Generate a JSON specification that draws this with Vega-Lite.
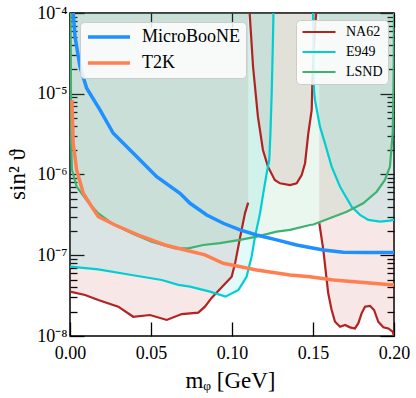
{
  "$schema": "https://vega.github.io/schema/vega-lite/v6.json",
  "width": 324,
  "height": 323,
  "autosize": {"type": "none"},
  "padding": {"left": 70, "top": 13, "right": 22, "bottom": 62},
  "background": "white",
  "config": {
    "view": {"stroke": "black", "strokeWidth": 1.5},
    "font": "Liberation Serif",
    "axis": {"grid": false, "domain": false, "labelColor": "black", "tickColor": "black", "tickWidth": 1.3, "labelFont": "Liberation Serif", "titleFont": "Liberation Serif", "titleFontWeight": "normal", "titleColor": "black", "labelFlush": false},
    "legend": {"labelFont": "Liberation Serif", "labelColor": "black"}
  },
  "data": {"values": [
    {"e": "NA62", "s": "L", "x": 0.0, "y": 3.54e-8},
    {"e": "NA62", "s": "L", "x": 0.0093, "y": 3.22e-8},
    {"e": "NA62", "s": "L", "x": 0.0175, "y": 2.79e-8},
    {"e": "NA62", "s": "L", "x": 0.0298, "y": 2.31e-8},
    {"e": "NA62", "s": "L", "x": 0.039, "y": 1.73e-8},
    {"e": "NA62", "s": "L", "x": 0.0494, "y": 1.82e-8},
    {"e": "NA62", "s": "L", "x": 0.0597, "y": 1.58e-8},
    {"e": "NA62", "s": "L", "x": 0.069, "y": 1.87e-8},
    {"e": "NA62", "s": "L", "x": 0.0792, "y": 1.95e-8},
    {"e": "NA62", "s": "L", "x": 0.0833, "y": 2.31e-8},
    {"e": "NA62", "s": "L", "x": 0.0874, "y": 2.96e-8},
    {"e": "NA62", "s": "L", "x": 0.0998, "y": 5.42e-8},
    {"e": "NA62", "s": "L", "x": 0.1019, "y": 7.94e-8},
    {"e": "NA62", "s": "L", "x": 0.1049, "y": 1.62e-7},
    {"e": "NA62", "s": "L", "x": 0.108, "y": 3.3e-7},
    {"e": "NA62", "s": "L", "x": 0.110, "y": 4.48e-7},
    {"e": "NA62", "s": "U", "x": 0.1109, "y": 1.0e-4},
    {"e": "NA62", "s": "U", "x": 0.113, "y": 2.16e-5},
    {"e": "NA62", "s": "U", "x": 0.116, "y": 5.2e-6},
    {"e": "NA62", "s": "U", "x": 0.1191, "y": 2.01e-6},
    {"e": "NA62", "s": "U", "x": 0.1222, "y": 1.25e-6},
    {"e": "NA62", "s": "U", "x": 0.1264, "y": 8.55e-7},
    {"e": "NA62", "s": "U", "x": 0.1296, "y": 7.78e-7},
    {"e": "NA62", "s": "U", "x": 0.1358, "y": 7.41e-7},
    {"e": "NA62", "s": "U", "x": 0.1399, "y": 7.78e-7},
    {"e": "NA62", "s": "U", "x": 0.143, "y": 9.86e-7},
    {"e": "NA62", "s": "U", "x": 0.1451, "y": 1.38e-6},
    {"e": "NA62", "s": "U", "x": 0.1471, "y": 3.24e-6},
    {"e": "NA62", "s": "U", "x": 0.1492, "y": 6.3e-6},
    {"e": "NA62", "s": "U", "x": 0.1496, "y": 1.35e-5},
    {"e": "NA62", "s": "U", "x": 0.151, "y": 5.61e-5},
    {"e": "NA62", "s": "U", "x": 0.152, "y": 1.0e-4},
    {"e": "NA62", "s": "R", "x": 0.1539, "y": 2.49e-7},
    {"e": "NA62", "s": "R", "x": 0.1564, "y": 1.16e-7},
    {"e": "NA62", "s": "R", "x": 0.158, "y": 5.97e-8},
    {"e": "NA62", "s": "R", "x": 0.1594, "y": 3.38e-8},
    {"e": "NA62", "s": "R", "x": 0.1615, "y": 2.1e-8},
    {"e": "NA62", "s": "R", "x": 0.1636, "y": 1.5e-8},
    {"e": "NA62", "s": "R", "x": 0.1667, "y": 1.3e-8},
    {"e": "NA62", "s": "R", "x": 0.1698, "y": 1.37e-8},
    {"e": "NA62", "s": "R", "x": 0.1728, "y": 1.28e-8},
    {"e": "NA62", "s": "R", "x": 0.1759, "y": 1.24e-8},
    {"e": "NA62", "s": "R", "x": 0.178, "y": 1.44e-8},
    {"e": "NA62", "s": "R", "x": 0.18, "y": 1.91e-8},
    {"e": "NA62", "s": "R", "x": 0.1821, "y": 2.31e-8},
    {"e": "NA62", "s": "R", "x": 0.1852, "y": 2.36e-8},
    {"e": "NA62", "s": "R", "x": 0.1877, "y": 2.1e-8},
    {"e": "NA62", "s": "R", "x": 0.1903, "y": 1.5e-8},
    {"e": "NA62", "s": "R", "x": 0.1934, "y": 1.28e-8},
    {"e": "NA62", "s": "R", "x": 0.1965, "y": 1.24e-8},
    {"e": "NA62", "s": "R", "x": 0.1992, "y": 1.13e-8},
    {"e": "NA62", "s": "R", "x": 0.2, "y": 1.0e-8},
    {"e": "E949", "s": "L", "x": 0.0, "y": 7.23e-8},
    {"e": "E949", "s": "L", "x": 0.0175, "y": 6.7e-8},
    {"e": "E949", "s": "L", "x": 0.038, "y": 5.69e-8},
    {"e": "E949", "s": "L", "x": 0.0566, "y": 4.94e-8},
    {"e": "E949", "s": "L", "x": 0.0669, "y": 4.29e-8},
    {"e": "E949", "s": "L", "x": 0.0741, "y": 4.08e-8},
    {"e": "E949", "s": "L", "x": 0.0864, "y": 3.54e-8},
    {"e": "E949", "s": "L", "x": 0.096, "y": 3.07e-8},
    {"e": "E949", "s": "L", "x": 0.104, "y": 3.72e-8},
    {"e": "E949", "s": "L", "x": 0.109, "y": 5.42e-8},
    {"e": "E949", "s": "L", "x": 0.1121, "y": 9.6e-8},
    {"e": "E949", "s": "L", "x": 0.1142, "y": 1.7e-7},
    {"e": "E949", "s": "L", "x": 0.1173, "y": 3.3e-7},
    {"e": "E949", "s": "L", "x": 0.1193, "y": 5.85e-7},
    {"e": "E949", "s": "L", "x": 0.1214, "y": 1.035e-6},
    {"e": "E949", "s": "L", "x": 0.123, "y": 1.51e-6},
    {"e": "E949", "s": "L", "x": 0.1237, "y": 3.16e-6},
    {"e": "E949", "s": "L", "x": 0.1245, "y": 1.0e-5},
    {"e": "E949", "s": "L", "x": 0.1252, "y": 3.98e-5},
    {"e": "E949", "s": "L", "x": 0.1256, "y": 1.0e-4},
    {"e": "E949", "s": "R", "x": 0.15, "y": 1.0e-4},
    {"e": "E949", "s": "R", "x": 0.1506, "y": 1.11e-5},
    {"e": "E949", "s": "R", "x": 0.1512, "y": 8.38e-6},
    {"e": "E949", "s": "R", "x": 0.1543, "y": 3.91e-6},
    {"e": "E949", "s": "R", "x": 0.1574, "y": 2.43e-6},
    {"e": "E949", "s": "R", "x": 0.1615, "y": 1.25e-6},
    {"e": "E949", "s": "R", "x": 0.1667, "y": 7.06e-7},
    {"e": "E949", "s": "R", "x": 0.1739, "y": 3.99e-7},
    {"e": "E949", "s": "R", "x": 0.179, "y": 3.16e-7},
    {"e": "E949", "s": "R", "x": 0.1842, "y": 2.74e-7},
    {"e": "E949", "s": "R", "x": 0.1914, "y": 2.61e-7},
    {"e": "E949", "s": "R", "x": 0.1975, "y": 2.68e-7},
    {"e": "E949", "s": "R", "x": 0.2, "y": 2.74e-7},
    {"e": "LSND", "s": "M", "x": 0.0003, "y": 1.0e-4},
    {"e": "LSND", "s": "M", "x": 0.0005, "y": 3.0e-5},
    {"e": "LSND", "s": "M", "x": 0.0006, "y": 1.0e-5},
    {"e": "LSND", "s": "M", "x": 0.0007, "y": 2.5e-6},
    {"e": "LSND", "s": "M", "x": 0.0012, "y": 1.14e-6},
    {"e": "LSND", "s": "M", "x": 0.0041, "y": 7.06e-7},
    {"e": "LSND", "s": "M", "x": 0.011, "y": 4.6e-7},
    {"e": "LSND", "s": "M", "x": 0.0175, "y": 3.3e-7},
    {"e": "LSND", "s": "M", "x": 0.0257, "y": 2.49e-7},
    {"e": "LSND", "s": "M", "x": 0.0381, "y": 1.87e-7},
    {"e": "LSND", "s": "M", "x": 0.0504, "y": 1.47e-7},
    {"e": "LSND", "s": "M", "x": 0.0648, "y": 1.22e-7},
    {"e": "LSND", "s": "M", "x": 0.073, "y": 1.22e-7},
    {"e": "LSND", "s": "M", "x": 0.0823, "y": 1.34e-7},
    {"e": "LSND", "s": "M", "x": 0.0926, "y": 1.41e-7},
    {"e": "LSND", "s": "M", "x": 0.1049, "y": 1.55e-7},
    {"e": "LSND", "s": "M", "x": 0.1152, "y": 1.7e-7},
    {"e": "LSND", "s": "M", "x": 0.1276, "y": 1.96e-7},
    {"e": "LSND", "s": "M", "x": 0.1358, "y": 2.06e-7},
    {"e": "LSND", "s": "M", "x": 0.1481, "y": 2.37e-7},
    {"e": "LSND", "s": "M", "x": 0.1502, "y": 2.4e-7},
    {"e": "LSND", "s": "M", "x": 0.1708, "y": 3.46e-7},
    {"e": "LSND", "s": "M", "x": 0.181, "y": 4.4e-7},
    {"e": "LSND", "s": "M", "x": 0.1893, "y": 6.12e-7},
    {"e": "LSND", "s": "M", "x": 0.1944, "y": 8.55e-7},
    {"e": "LSND", "s": "M", "x": 0.1975, "y": 1.25e-6},
    {"e": "LSND", "s": "M", "x": 0.1992, "y": 3.27e-6},
    {"e": "LSND", "s": "M", "x": 0.1996, "y": 8.38e-6},
    {"e": "LSND", "s": "M", "x": 0.1999, "y": 3.0e-5},
    {"e": "LSND", "s": "M", "x": 0.2, "y": 1.0e-4},
    {"e": "MicroBooNE", "s": "M", "x": 0.002, "y": 1.0e-4},
    {"e": "MicroBooNE", "s": "M", "x": 0.0031, "y": 5.09e-5},
    {"e": "MicroBooNE", "s": "M", "x": 0.0062, "y": 2.16e-5},
    {"e": "MicroBooNE", "s": "M", "x": 0.0103, "y": 1.17e-5},
    {"e": "MicroBooNE", "s": "M", "x": 0.0185, "y": 6.3e-6},
    {"e": "MicroBooNE", "s": "M", "x": 0.0267, "y": 3.24e-6},
    {"e": "MicroBooNE", "s": "M", "x": 0.0391, "y": 1.83e-6},
    {"e": "MicroBooNE", "s": "M", "x": 0.0535, "y": 9.4e-7},
    {"e": "MicroBooNE", "s": "M", "x": 0.0679, "y": 5.85e-7},
    {"e": "MicroBooNE", "s": "M", "x": 0.0741, "y": 4.4e-7},
    {"e": "MicroBooNE", "s": "M", "x": 0.0844, "y": 3.15e-7},
    {"e": "MicroBooNE", "s": "M", "x": 0.0946, "y": 2.49e-7},
    {"e": "MicroBooNE", "s": "M", "x": 0.1049, "y": 2.06e-7},
    {"e": "MicroBooNE", "s": "M", "x": 0.1152, "y": 1.78e-7},
    {"e": "MicroBooNE", "s": "M", "x": 0.1276, "y": 1.55e-7},
    {"e": "MicroBooNE", "s": "M", "x": 0.1399, "y": 1.34e-7},
    {"e": "MicroBooNE", "s": "M", "x": 0.1481, "y": 1.25e-7},
    {"e": "MicroBooNE", "s": "M", "x": 0.1564, "y": 1.16e-7},
    {"e": "MicroBooNE", "s": "M", "x": 0.1687, "y": 1.09e-7},
    {"e": "MicroBooNE", "s": "M", "x": 0.1831, "y": 1.08e-7},
    {"e": "MicroBooNE", "s": "M", "x": 0.2, "y": 1.08e-7},
    {"e": "T2K", "s": "M", "x": 0.0012, "y": 8.38e-6},
    {"e": "T2K", "s": "M", "x": 0.002, "y": 2.43e-6},
    {"e": "T2K", "s": "M", "x": 0.0041, "y": 1.14e-6},
    {"e": "T2K", "s": "M", "x": 0.0082, "y": 5.85e-7},
    {"e": "T2K", "s": "M", "x": 0.0134, "y": 3.99e-7},
    {"e": "T2K", "s": "M", "x": 0.0175, "y": 3.0e-7},
    {"e": "T2K", "s": "M", "x": 0.0278, "y": 2.37e-7},
    {"e": "T2K", "s": "M", "x": 0.0422, "y": 1.78e-7},
    {"e": "T2K", "s": "M", "x": 0.0586, "y": 1.34e-7},
    {"e": "T2K", "s": "M", "x": 0.071, "y": 1.16e-7},
    {"e": "T2K", "s": "M", "x": 0.0833, "y": 1.01e-7},
    {"e": "T2K", "s": "M", "x": 0.0946, "y": 7.94e-8},
    {"e": "T2K", "s": "M", "x": 0.1152, "y": 6.56e-8},
    {"e": "T2K", "s": "M", "x": 0.1358, "y": 5.69e-8},
    {"e": "T2K", "s": "M", "x": 0.1481, "y": 5.42e-8},
    {"e": "T2K", "s": "M", "x": 0.1626, "y": 4.94e-8},
    {"e": "T2K", "s": "M", "x": 0.1831, "y": 4.58e-8},
    {"e": "T2K", "s": "M", "x": 0.2, "y": 4.29e-8}
  ]},
  "layer": [
    {
      "layer": [
        {
          "transform": [{"filter": "datum.e == 'NA62'"}],
          "mark": {"type": "area", "color": "#b22222", "opacity": 0.11, "clip": true},
          "encoding": {
            "x": {"field": "x", "type": "quantitative"},
            "y": {"field": "y", "type": "quantitative"},
            "y2": {"datum": 0.0001},
            "detail": {"field": "s"}
          }
        },
        {
          "transform": [{"filter": "datum.e == 'E949'"}],
          "mark": {"type": "area", "color": "#00ced1", "opacity": 0.11, "clip": true},
          "encoding": {
            "x": {"field": "x", "type": "quantitative"},
            "y": {"field": "y", "type": "quantitative"},
            "y2": {"datum": 0.0001},
            "detail": {"field": "s"}
          }
        },
        {
          "transform": [{"filter": "datum.e == 'LSND'"}],
          "mark": {"type": "area", "color": "#3cb371", "opacity": 0.11, "clip": true},
          "encoding": {
            "x": {"field": "x", "type": "quantitative"},
            "y": {"field": "y", "type": "quantitative"},
            "y2": {"datum": 0.0001},
            "detail": {"field": "s"}
          }
        },
        {
          "transform": [{"filter": "datum.e == 'NA62' || datum.e == 'E949' || datum.e == 'LSND'"}],
          "mark": {"type": "line", "strokeWidth": 2.2, "clip": true},
          "encoding": {
            "x": {"field": "x", "type": "quantitative"},
            "y": {"field": "y", "type": "quantitative"},
            "detail": {"field": "s"},
            "color": {
              "field": "e", "type": "nominal",
              "scale": {"domain": ["NA62", "E949", "LSND"], "range": ["#b22222", "#00ced1", "#3cb371"]},
              "legend": {
                "title": null, "orient": "none", "legendX": 226, "legendY": 7,
                "symbolType": "M-1,0H5", "symbolSize": 121, "symbolStrokeWidth": 2.2,
                "labelFont": "Liberation Serif", "labelFontSize": 14, "labelOffset": 31, "padding": 5, "rowPadding": 6,
                "fillColor": "rgba(255,255,255,0.85)", "strokeColor": "#cccccc", "cornerRadius": 4
              }
            }
          }
        },
        {
          "transform": [{"filter": "datum.e == 'MicroBooNE' || datum.e == 'T2K'"}],
          "mark": {"type": "line", "strokeWidth": 3.5, "clip": true},
          "encoding": {
            "x": {"field": "x", "type": "quantitative"},
            "y": {"field": "y", "type": "quantitative"},
            "color": {
              "field": "e", "type": "nominal",
              "scale": {"domain": ["MicroBooNE", "T2K"], "range": ["#1e90ff", "#ff7f50"]},
              "legend": {
                "title": null, "orient": "none", "legendX": 10, "legendY": 9,
                "symbolType": "M-1,0H5", "symbolSize": 196, "symbolStrokeWidth": 3.5,
                "labelFont": "Liberation Serif", "labelFontSize": 18, "labelOffset": 38, "padding": 6, "rowPadding": 8,
                "fillColor": "rgba(255,255,255,0.85)", "strokeColor": "#cccccc", "cornerRadius": 4
              }
            }
          }
        }
      ],
      "resolve": {"scale": {"color": "independent"}},
      "encoding": {
        "x": {
          "field": "x", "type": "quantitative",
          "scale": {"domain": [0, 0.2], "nice": false, "zero": false},
          "axis": {
            "orient": "bottom", "values": [0, 0.05, 0.1, 0.15, 0.2], "format": ".2f", "labelFlush": false,
            "tickSize": -14, "labelFont": "Liberation Serif", "labelFontSize": 18, "labelPadding": 36, "labelBaseline": "alphabetic",
            "title": "mᵩ [GeV]", "titleFont": "Liberation Serif", "titleFontSize": 23, "titleX": 160, "titleY": 51, "titleBaseline": "alphabetic"
          }
        },
        "y": {
          "field": "y", "type": "quantitative",
          "scale": {"type": "log", "domain": [1e-8, 1e-4], "nice": false},
          "axis": {
            "orient": "left",
            "values": [1e-8,2e-8,3e-8,4e-8,5e-8,6e-8,7e-8,8e-8,9e-8,1e-7,2e-7,3e-7,4e-7,5e-7,6e-7,7e-7,8e-7,9e-7,1e-6,2e-6,3e-6,4e-6,5e-6,6e-6,7e-6,8e-6,9e-6,1e-5,2e-5,3e-5,4e-5,5e-5,6e-5,7e-5,8e-5,9e-5,1e-4],
            "labelExpr": "abs(log(datum.value)/LN10 - round(log(datum.value)/LN10)) < 0.001 ? (datum.value < 5e-8 ? '10⁻⁸' : datum.value < 5e-7 ? '10⁻⁷' : datum.value < 5e-6 ? '10⁻⁶' : datum.value < 5e-5 ? '10⁻⁵' : '10⁻⁴') : ''",
            "labelOverlap": false, "labelFont": "Liberation Serif", "labelFontSize": 18, "labelPadding": 17, "labelFlush": false,
            "tickSize": {"condition": {"test": "abs(log(datum.value)/LN10 - round(log(datum.value)/LN10)) < 0.001", "value": -14}, "value": -7},
            "title": "sin² ϑ", "titleFont": "Liberation Serif", "titleFontSize": 23, "titleAngle": -90, "titleX": -46, "titleY": 161, "titleBaseline": "alphabetic", "titleAlign": "center"
          }
        }
      }
    },
    {
      "mark": {"type": "point", "opacity": 0},
      "encoding": {
        "x": {
          "field": "x", "type": "quantitative",
          "scale": {"domain": [0, 0.2], "nice": false, "zero": false},
          "axis": {"orient": "top", "values": [0, 0.05, 0.1, 0.15, 0.2], "labels": false, "tickSize": -14, "title": null}
        },
        "y": {
          "field": "y", "type": "quantitative",
          "scale": {"type": "log", "domain": [1e-8, 1e-4], "nice": false},
          "axis": {
            "orient": "right", "labels": false, "title": null,
            "values": [1e-8,2e-8,3e-8,4e-8,5e-8,6e-8,7e-8,8e-8,9e-8,1e-7,2e-7,3e-7,4e-7,5e-7,6e-7,7e-7,8e-7,9e-7,1e-6,2e-6,3e-6,4e-6,5e-6,6e-6,7e-6,8e-6,9e-6,1e-5,2e-5,3e-5,4e-5,5e-5,6e-5,7e-5,8e-5,9e-5,1e-4],
            "tickSize": {"condition": {"test": "abs(log(datum.value)/LN10 - round(log(datum.value)/LN10)) < 0.001", "value": -14}, "value": -7}
          }
        }
      }
    }
  ],
  "resolve": {"axis": {"x": "independent", "y": "independent"}}
}
